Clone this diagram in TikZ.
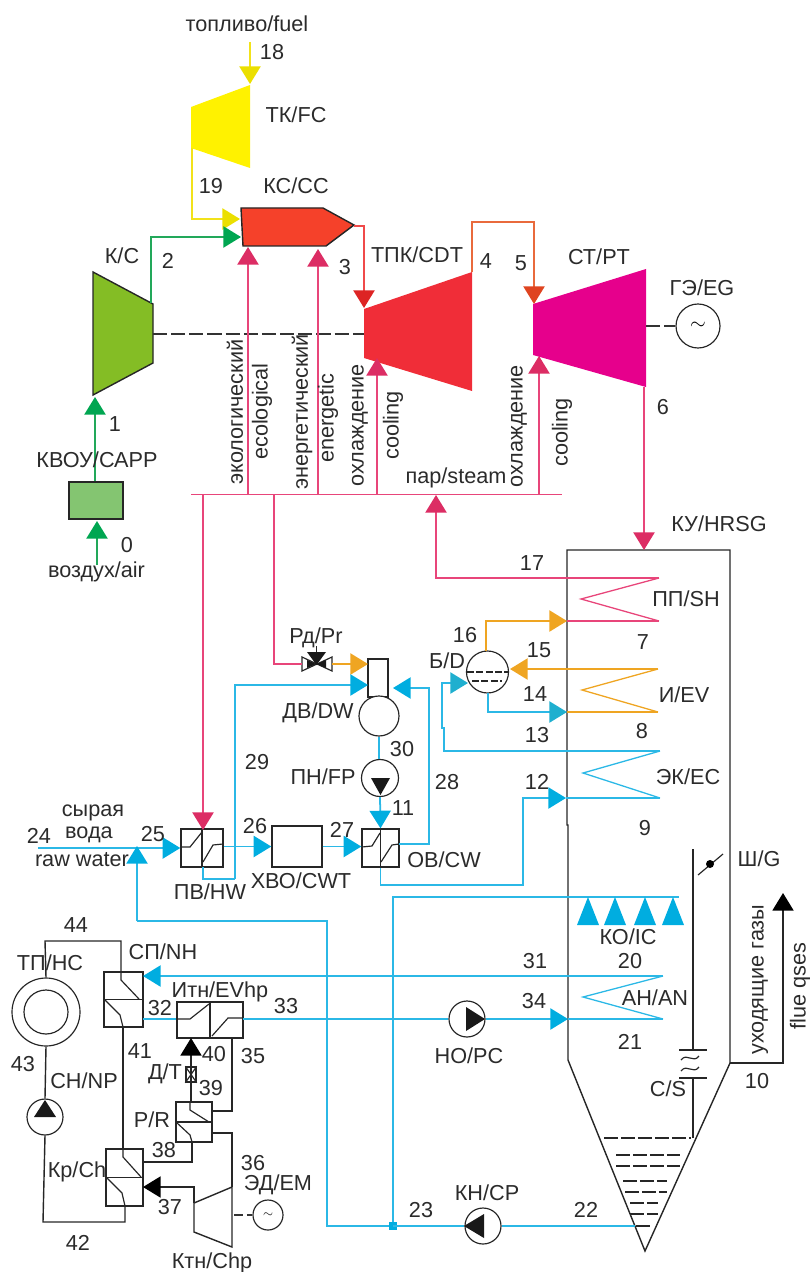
\documentclass[tikz,border=0pt]{standalone}
\usepackage{fontspec}
\setmainfont{Liberation Sans}
\usepackage{xcolor}
\usetikzlibrary{arrows.meta}
\def\px{0.03cm}
\definecolor{txtgray}{HTML}{2B2B2B}
\definecolor{yelfill}{HTML}{FFF200}
\definecolor{yelline}{HTML}{F2E21A}
\definecolor{yelhead}{HTML}{EBDF00}
\definecolor{grnline}{HTML}{22A85A}
\definecolor{grnhead}{HTML}{00A651}
\definecolor{grnfill}{HTML}{84BD25}
\definecolor{capfill}{HTML}{84C571}
\definecolor{ccfill}{HTML}{F5412A}
\definecolor{redline}{HTML}{F04A4A}
\definecolor{redhead}{HTML}{DD2424}
\definecolor{cdtfill}{HTML}{F02D38}
\definecolor{ornline}{HTML}{E96A3C}
\definecolor{ornhead}{HTML}{DF4420}
\definecolor{ptfill}{HTML}{E6008C}
\definecolor{pnkline}{HTML}{E8457A}
\definecolor{pnkhead}{HTML}{DC2D64}
\definecolor{cyaline}{HTML}{2BB8E6}
\definecolor{cyahead}{HTML}{00ADE0}
\definecolor{teahead}{HTML}{1FAFCF}
\definecolor{ambline}{HTML}{EFA522}
\tikzset{
  lbl/.style={font=\fontsize{18.5}{20}\selectfont,inner sep=0pt,text=txtgray},
  arr/.style={-{Triangle[length=15pt,width=18pt,color=#1]}},
  pipe/.style={line width=1.5pt,draw=#1},
  blk/.style={line width=1.2pt,draw=black!85},
  zig/.style={line width=1pt,draw=black!85},
  unitbox/.style 2 args={draw=black!85,line width=1.2pt,fill=white,inner sep=0pt,minimum width=#1*\px,minimum height=#2*\px},
  unitcirc/.style={circle,draw=black!85,line width=1pt,fill=white,inner sep=0pt,minimum size=#1*\px},
  shaft/.style={line width=1.2pt,draw=black!80,dash pattern=on 12pt off 3.5pt},
  level/.style={line width=1.2pt,draw=black!85,dash pattern=on 12pt off 2.5pt},
}
\begin{document}
\begin{tikzpicture}[x=\px,y=-\px]
\useasboundingbox (0,0) rectangle (809,1272);
% machines
\fill[yelfill] (191,107) -- (250,85) -- (250,168) -- (191,148) -- cycle;
\draw[blk,fill=grnfill] (93,272) -- (153,304) -- (153,363) -- (93,395) -- cycle;
\draw[blk,fill=ccfill] (241,208) -- (323,208) -- (354,225) -- (326,246) -- (243,246) -- cycle;
\fill[cdtfill] (364,309) -- (472,272) -- (472,391) -- (364,358) -- cycle;
\fill[ptfill] (533,304) -- (646,269) -- (646,387) -- (533,355) -- cycle;
\draw[blk] (232,1187) -- (194,1203) -- (194,1232) -- (232,1247) -- cycle;
% HRSG casing
\draw[blk] (568,825) -- (567,825) |- (730,550) -- (730,1063) -- (645,1251) -- (568,1060) -- cycle;
\draw[blk] (693,849) -- (693,1050);
\draw[blk] (693,1078) -- (693,1138);
\draw[blk] (679,1050) -- (707,1050);
\draw[blk] (679,1078) -- (707,1078);
\draw[zig] (681,1060) .. controls (687,1052) and (693,1064) .. (699,1056);
\draw[zig] (681,1071) .. controls (687,1063) and (693,1075) .. (699,1067);
\draw[zig] (698,875) -- (723,854);
\fill[black] (710,864) circle (4);
\draw[level] (604,1138) -- (691,1138);
\draw[level] (616,1155) -- (680,1155);
\draw[level] (616,1166) -- (680,1166);
\draw[level] (623,1181) -- (667,1181);
\draw[level] (625,1192) -- (667,1192);
\draw[level] (630,1203) -- (658,1203);
\draw[level] (630,1214) -- (658,1214);
\draw[level] (636,1226) -- (652,1226);
% units
\node[unitbox={54}{37},fill=capfill] (cap) at (96,500.5) {};
\node[unitbox={42}{38}] (hw) at (202,848) {};
\node[unitbox={50}{41}] (cwt) at (297,846.5) {};
\node[unitbox={37}{38}] (cw) at (380.5,848) {};
\node[unitbox={39}{55}] (nh) at (123.5,999.5) {};
\node[unitbox={66}{36}] (evhp) at (210,1020) {};
\node[unitbox={36}{40}] (rr) at (194,1122) {};
\node[unitbox={37}{57}] (ch) at (124.5,1177.5) {};
\node[unitbox={20}{38}] (dw) at (378,678) {};
\node[unitcirc=40] (tank) at (379,716) {};
\node[unitcirc=37] (fp) at (380,778) {};
\node[unitcirc=42] (drum) at (487.5,672) {};
\node[unitcirc=36] (pc) at (467,1019) {};
\node[unitcirc=36] (cp) at (483,1226) {};
\node[unitcirc=36] (np) at (45,1117) {};
\node[unitcirc=68] (hc) at (46,1012) {};
\node[unitcirc=44] (hcin) at (46,1012) {};
\node[unitcirc=44,font=\fontsize{17}{17}\selectfont] (gen) at (698,326) {$\sim$};
\node[unitcirc=30,font=\fontsize{11}{11}\selectfont] (em) at (268,1215) {$\sim$};
\node[unitbox={10}{15}] (thr) at (191,1074.5) {};
\draw[zig] (thr.north west) -- (thr.south east) (thr.north east) -- (thr.south west);
% exchanger inserts
\draw[blk] (hw.north) -- (hw.south);
\draw[zig] (181,847) -- (190,847) -- (202,832) (203,862) -- (213,845) -- (223,844);
\draw[blk] (cw.north) -- (cw.south);
\draw[zig] (362,847) -- (372,846) -- (380,833) (381,862) -- (392,845) -- (399,844);
\draw[blk] (evhp.north) -- (evhp.south);
\draw[zig] (177,1019) -- (190,1019) -- (209,1004) (212,1036) -- (228,1018) -- (243,1018);
\draw[blk] (nh.west) -- (nh.east);
\draw[zig] (121,972) -- (121,980) -- (139,999) (104,999) -- (120,1015) -- (123,1027);
\draw[blk] (rr.west) -- (rr.east);
\draw[zig] (190,1102) -- (190,1110) -- (209,1122) (176,1122) -- (190,1135) -- (192,1142);
\draw[blk] (ch.west) -- (ch.east);
\draw[zig] (123,1149) -- (123,1157) -- (141,1177) (106,1177) -- (122,1193) -- (125,1206);
% pump triangles and valve
\fill[black!90] (371,778) -- (390,778) -- (380.5,795) -- cycle;
\fill[black!90] (466,1007) -- (485,1019) -- (466,1031) -- cycle;
\fill[black!90] (464,1226) -- (484,1214) -- (484,1238) -- cycle;
\fill[black!90] (45,1100) -- (56,1117) -- (34,1117) -- cycle;
\coordinate (prl) at (302,664);
\coordinate (prr) at (332,664);
\draw[zig] (302,657) -- (332,671) -- (332,657) -- (302,671) -- cycle;
\fill[black!90] (307,660) -- (326,668) -- (326,660) -- (307,668) -- cycle;
\fill[black!90] (307,652) -- (326,652) -- (316.5,665) -- cycle;
\draw[zig] (316.5,646) -- (316.5,652);
% ports
\coordinate (fuelin) at (250,42);
\coordinate (fctop) at (250,84);
\coordinate (fcout) at (192,148);
\coordinate (ccfuel) at (240,219);
\coordinate (ccair) at (241,237);
\coordinate (cout) at (151,303);
\coordinate (cin) at (95,397);
\coordinate (capin) at (97,565);
\coordinate (captip) at (97,521);
\coordinate (ccout) at (354,226);
\coordinate (cdtin) at (364,308);
\coordinate (cdtout) at (472,272);
\coordinate (ptbend) at (534,222);
\coordinate (ptin) at (534,304);
\coordinate (ptout) at (644,387);
\coordinate (hrsgin) at (644,550);
\coordinate (cshaft) at (153,334);
\coordinate (cdtshaft) at (364,334);
\coordinate (ptshaft) at (646,326);
\coordinate (barl) at (191,494.5);
\coordinate (barr) at (562,494.5);
\coordinate (ecobar) at (248,494.5);
\coordinate (ecotip) at (248,247);
\coordinate (enbar) at (318,494.5);
\coordinate (entip) at (318,249);
\coordinate (cdtbar) at (377,494.5);
\coordinate (cdttip) at (377,358);
\coordinate (ptbar) at (539,494.5);
\coordinate (pttip) at (539,356);
\coordinate (hwbar) at (203,494.5);
\coordinate (hwtip) at (203,830);
\coordinate (prbar) at (274,494.5);
\coordinate (shbar) at (436,495);
\coordinate (shout) at (659,578);
\coordinate (shtip) at (581,599);
\coordinate (shin) at (659,621);
\coordinate (shwall) at (567,621);
\coordinate (drumup) at (486,651);
\coordinate (dwsteam) at (368,664);
\coordinate (hwout) at (203,867);
\coordinate (hwbend) at (235,879);
\coordinate (dwhw) at (368,685);
\coordinate (cwout) at (399,844);
\coordinate (cwbend) at (429,844);
\coordinate (dwcw) at (393,688);
\coordinate (rawin) at (38,848);
\coordinate (rawtip) at (137,846);
\coordinate (rawbend) at (137,921);
\coordinate (lowbend) at (327,921);
\coordinate (junction) at (393,1226);
\coordinate (lowend) at (327,1226);
\coordinate (icbend) at (393,897);
\coordinate (icend) at (679,897);
\coordinate (cwdown) at (380,885);
\coordinate (ecbend) at (523,885);
\coordinate (ecin) at (566,798);
\coordinate (ecout) at (660,751);
\coordinate (ectip) at (583,773);
\coordinate (ecend) at (660,798);
\coordinate (evout) at (658,669);
\coordinate (evtip) at (582,690);
\coordinate (evend) at (658,712);
\coordinate (evwall) at (567,712);
\coordinate (drumin) at (510,669);
\coordinate (drumout) at (488,693);
\coordinate (drumec) at (468,683);
\coordinate (ecbk1) at (444,751);
\coordinate (ecbk2) at (444,728);
\coordinate (ecbk3) at (442,728);
\coordinate (ecbk4) at (442,683);
\coordinate (anout) at (663,976);
\coordinate (antip) at (583,997);
\coordinate (anend) at (663,1019);
\coordinate (anwall) at (568,1019);
\coordinate (nhin) at (143,976);
\coordinate (nhout) at (143,1019);
\coordinate (evhpout) at (243,1019);
\coordinate (hotend) at (635,1226);
\coordinate (flue) at (730,1063);
\coordinate (fluebend) at (783,1063);
\coordinate (fluetip) at (783,893);
% flows
\draw[pipe=yelline,arr=yelhead] (fuelin) -- (fctop);
\draw[pipe=yelline,arr=yelhead] (fcout) |- (ccfuel);
\draw[pipe=grnline,arr=grnhead] (cout) |- (ccair);
\draw[pipe=grnline,arr=grnhead] (cap.north -| cin) -- (cin);
\draw[pipe=grnline,arr=grnhead] (capin) -- (captip);
\draw[pipe=redline,arr=redhead] (ccout) -| (cdtin);
\draw[pipe=ornline,arr=ornhead] (cdtout) |- (ptbend) -- (ptin);
\draw[shaft] (cshaft) -- (cdtshaft);
\draw[shaft] (ptshaft) -- (gen);
\draw[pipe=pnkline,arr=pnkhead] (ptout) -- (hrsgin);
\draw[pipe=pnkline] (barl) -- (barr);
\draw[pipe=pnkline,arr=pnkhead] (ecobar) -- (ecotip);
\draw[pipe=pnkline,arr=pnkhead] (enbar) -- (entip);
\draw[pipe=pnkline,arr=pnkhead] (cdtbar) -- (cdttip);
\draw[pipe=pnkline,arr=pnkhead] (ptbar) -- (pttip);
\draw[pipe=pnkline,arr=pnkhead] (hwbar) -- (hwtip);
\draw[pipe=pnkline] (prbar) |- (prl);
\draw[pipe=pnkline,arr=pnkhead] (shout) -| (shbar);
\draw[pipe=pnkline,line width=1.1pt] (shout) -- (shtip) -- (shin);
\draw[pipe=pnkline] (shin) -- (shwall);
\draw[pipe=ambline,arr=ambline] (drumup) |- (shwall);
\draw[pipe=ambline,arr=ambline] (prr) -- (dwsteam);
\draw[pipe=ambline,arr=ambline] (evout) -- (drumin);
\draw[pipe=ambline,line width=1.1pt] (evout) -- (evtip) -- (evend);
\draw[pipe=ambline] (evend) -- (evwall);
\draw[pipe=cyaline,arr=teahead] (drumout) |- (evwall);
\draw[pipe=cyaline,line width=1.1pt] (ecout) -- (ectip) -- (ecend);
\draw[pipe=cyaline] (ecend) -- (ecin);
\draw[pipe=cyaline,arr=teahead] (ecout) -- (ecbk1) -- (ecbk2) -- (ecbk3) -- (ecbk4) -- (drumec);
\draw[pipe=cyaline,arr=cyahead] (rawin) -- (hw.west);
\draw[pipe=cyaline,arr=cyahead] (hw.east |- cwt.west) -- (cwt.west);
\draw[pipe=cyaline,arr=cyahead] (cwt.east) -- (cw.west |- cwt.east);
\draw[pipe=cyaline] (hwout) |- (hwbend);
\draw[pipe=cyaline,arr=cyahead] (hwbend) |- (dwhw);
\draw[pipe=cyaline] (cw.south) |- (cwdown);
\draw[pipe=cyaline,arr=cyahead] (cwdown) -- (ecbend) |- (ecin);
\draw[pipe=cyaline,arr=cyahead] (cwout) -- (cwbend) |- (dwcw);
\draw[pipe=cyaline] (tank.south) -- (fp.north -| tank.south);
\draw[pipe=cyaline,arr=cyahead] (fp.south) -- (cw.north);
\draw[pipe=cyaline,arr=cyahead] (rawbend) -- (rawtip);
\draw[pipe=cyaline] (rawbend) -- (lowbend) -- (lowend) -- (junction);
\draw[pipe=cyaline] (junction) -- (icbend) -- (icend);
\fill[cyahead] (389,1222) rectangle (397,1230);
\draw[pipe=cyaline] (cp.east) -- (hotend);
\draw[pipe=cyaline] (cp.west) -- (junction);
\draw[pipe=cyaline,arr=cyahead] (anout) -- (nhin);
\draw[pipe=cyaline,line width=1.1pt] (anout) -- (antip) -- (anend);
\draw[pipe=cyaline] (anend) -- (anwall);
\draw[pipe=cyaline,arr=cyahead] (pc.east) -- (anwall);
\draw[pipe=cyaline] (nhout) -- (evhp.west |- nhout);
\draw[pipe=cyaline] (evhpout) -- (pc.west);
\coordinate (ic1a) at (588,897);
\coordinate (ic1b) at (588,925);
\coordinate (ic2a) at (615,897);
\coordinate (ic2b) at (615,925);
\coordinate (ic3a) at (645,897);
\coordinate (ic3b) at (645,925);
\coordinate (ic4a) at (673,897);
\coordinate (ic4b) at (673,925);
\fill[cyahead] (ic1a) -- ([xshift=11*\px]ic1b) -- ([xshift=-11*\px]ic1b) -- cycle;
\fill[cyahead] (ic2a) -- ([xshift=11*\px]ic2b) -- ([xshift=-11*\px]ic2b) -- cycle;
\fill[cyahead] (ic3a) -- ([xshift=11*\px]ic3b) -- ([xshift=-11*\px]ic3b) -- cycle;
\fill[cyahead] (ic4a) -- ([xshift=11*\px]ic4b) -- ([xshift=-11*\px]ic4b) -- cycle;
\draw[blk,arr=black] (flue) -- (fluebend) -- (fluetip);
% heat pump loop
\coordinate (nptop) at (45,941);
\coordinate (nhtop) at (121,941);
\coordinate (chlow) at (125,1222);
\coordinate (nplow) at (43,1222);
\coordinate (evin) at (191,1038);
\coordinate (rtop) at (191,1102);
\coordinate (rhot) at (212,1111);
\coordinate (evdn) at (232,1038);
\coordinate (rcold) at (192,1142);
\coordinate (chcold) at (143,1162);
\coordinate (rcoldb) at (192,1162);
\coordinate (rout) at (212,1133);
\coordinate (rbend) at (232,1133);
\coordinate (chptop) at (232,1187);
\coordinate (chpin) at (194,1203);
\coordinate (chin) at (143,1187);
\coordinate (chpb) at (194,1187);
\coordinate (chpmotor) at (234,1215);
\coordinate (nhlow) at (123,1027);
\coordinate (chup) at (123,1149);
\draw[blk] (hc.north) -- (nptop) -- (nhtop) -- (nh.north -| nhtop);
\draw[blk] (hc.south) -- (np.north);
\draw[blk] (np.south) -- (nplow) -- (chlow) -- (ch.south -| chlow);
\draw[blk] (nhlow) -- (chup);
\draw[blk,arr=black] (rtop) -- (evin);
\draw[blk] (evdn) |- (rhot);
\draw[blk] (rcold) -- (rcoldb) -- (chcold);
\draw[blk] (rout) -- (rbend) -- (chptop);
\draw[blk,arr=black] (chpin) -- (chpb) -- (chin);
\draw[shaft,dash pattern=on 8pt off 3pt] (chpmotor) -- (em);
% labels
\node[lbl] (tfuel) at (247,24) {топливо/fuel};
\node[lbl] (t18) at (272,52) {18};
\node[lbl] (tfc) at (296,115) {ТК/FC};
\node[lbl] (t19) at (211,186) {19};
\node[lbl] (tcc) at (296,186) {КС/CC};
\node[lbl] (tc) at (122,256) {К/С};
\node[lbl] (t2) at (168,261) {2};
\node[lbl] (t3) at (345,267) {3};
\node[lbl] (tcdt) at (417,255) {ТПК/CDT};
\node[lbl] (t4) at (486,261) {4};
\node[lbl] (t5) at (521,263) {5};
\node[lbl] (tpt) at (599,257) {СТ/PT};
\node[lbl] (teg) at (702,288) {ГЭ/EG};
\node[lbl] (t6) at (663,407) {6};
\node[lbl] (t1) at (115,424) {1};
\node[lbl] (tcap) at (97,460) {КВОУ/САРР};
\node[lbl] (t0) at (127,545) {0};
\node[lbl] (tair) at (96.5,572) {воздух/air};
\node[lbl] (tsteam) at (456,478) {пар/steam};
\node[lbl] (thrsg) at (719,524) {КУ/HRSG};
\node[lbl] (t17) at (532,563) {17};
\node[lbl] (tsh) at (686,599) {ПП/SH};
\node[lbl] (t7) at (643,642) {7};
\node[lbl] (t16) at (465,635) {16};
\node[lbl] (tpr) at (316,638) {Рд/Pr};
\node[lbl] (t15) at (539,650) {15};
\node[lbl] (td) at (447,661) {Б/D};
\node[lbl] (tev) at (684,695) {И/EV};
\node[lbl] (t14) at (535,694) {14};
\node[lbl] (tdw) at (318,713) {ДВ/DW};
\node[lbl] (t8) at (642,731) {8};
\node[lbl] (t13) at (537,735) {13};
\node[lbl] (t30) at (402,749) {30};
\node[lbl] (t29) at (257,762) {29};
\node[lbl] (tfp) at (323,777) {ПН/FP};
\node[lbl] (tec) at (688,777) {ЭК/ЕС};
\node[lbl] (t28) at (447,782) {28};
\node[lbl] (t12) at (537,782) {12};
\node[lbl] (t11) at (403,808) {11};
\node[lbl] (traw1) at (93,813) {сырая};
\node[lbl] (t26) at (255,826) {26};
\node[lbl] (t9) at (645,828) {9};
\node[lbl] (t27) at (342,830) {27};
\node[lbl] (t25) at (153,834) {25};
\node[lbl] (traw2) at (89,835) {вода};
\node[lbl] (t24) at (39,836) {24};
\node[lbl] (tg) at (759,859) {Ш/G};
\node[lbl] (traw3) at (82,860) {raw water};
\node[lbl] (tcw) at (444,860) {ОВ/CW};
\node[lbl] (tcwt) at (301,881) {ХВО/CWT};
\node[lbl] (thw) at (210,892) {ПВ/HW};
\node[lbl] (t44) at (76,925) {44};
\node[lbl] (tic) at (628,937) {КО/IC};
\node[lbl] (tnh) at (163,952) {СП/NH};
\node[lbl] (t31) at (535,961) {31};
\node[lbl] (t20) at (630,961) {20};
\node[lbl] (ths) at (50,963) {ТП/НС};
\node[lbl] (tevhp) at (220,992) {Итн/EVhp};
\node[lbl] (tan) at (655,998) {АН/AN};
\node[lbl] (t34) at (534,1001) {34};
\node[lbl] (t33) at (286,1006) {33};
\node[lbl] (t32) at (160,1008) {32};
\node[lbl] (t21) at (630,1042) {21};
\node[lbl] (t41) at (140,1051) {41};
\node[lbl] (t40) at (214,1054) {40};
\node[lbl] (t35) at (253,1056) {35};
\node[lbl] (tpc) at (469,1056) {НО/PC};
\node[lbl] (t43) at (23,1064) {43};
\node[lbl] (tdt) at (165,1074) {Д/Т};
\node[lbl] (tnp) at (84,1081) {СН/NP};
\node[lbl] (t10) at (757,1081) {10};
\node[lbl] (t39) at (211,1088) {39};
\node[lbl] (tcs) at (668,1089) {С/S};
\node[lbl] (tr) at (152,1120) {Р/R};
\node[lbl] (t38) at (164,1150) {38};
\node[lbl] (t36) at (253,1163) {36};
\node[lbl] (tch) at (77,1172) {Кр/Ch};
\node[lbl] (tem) at (278,1185) {ЭД/EM};
\node[lbl] (tcp) at (487,1193) {КН/CP};
\node[lbl] (t37) at (170,1207) {37};
\node[lbl] (t23) at (421,1210) {23};
\node[lbl] (t22) at (586,1210) {22};
\node[lbl] (t42) at (78,1243) {42};
\node[lbl] (tchp) at (212,1263) {Ктн/Chp};
\node[lbl,rotate=90,anchor=west] (teco1) at (235,485) {экологический};
\node[lbl,rotate=90,anchor=west] (teco2) at (262,460) {ecological};
\node[lbl,rotate=90,anchor=west] (ten1) at (302,490) {энергетический};
\node[lbl,rotate=90,anchor=west] (ten2) at (328,463) {energetic};
\node[lbl,rotate=90,anchor=west] (tcl1) at (360,487) {охлаждение};
\node[lbl,rotate=90,anchor=west] (tcl2) at (393,460) {cooling};
\node[lbl,rotate=90,anchor=west] (tcl3) at (519,488) {охлаждение};
\node[lbl,rotate=90,anchor=west] (tcl4) at (562,467) {cooling};
\node[lbl,rotate=90,anchor=west] (tfg1) at (760,1055) {уходящие газы};
\node[lbl,rotate=90,anchor=west] (tfg2) at (800,1030) {flue qses};
% drum levels
\draw[level,dash pattern=on 6pt off 2pt] (467,672) -- (508,672);
\draw[level,dash pattern=on 6pt off 2pt] (472,681) -- (502,681);
\end{tikzpicture}
\end{document}
